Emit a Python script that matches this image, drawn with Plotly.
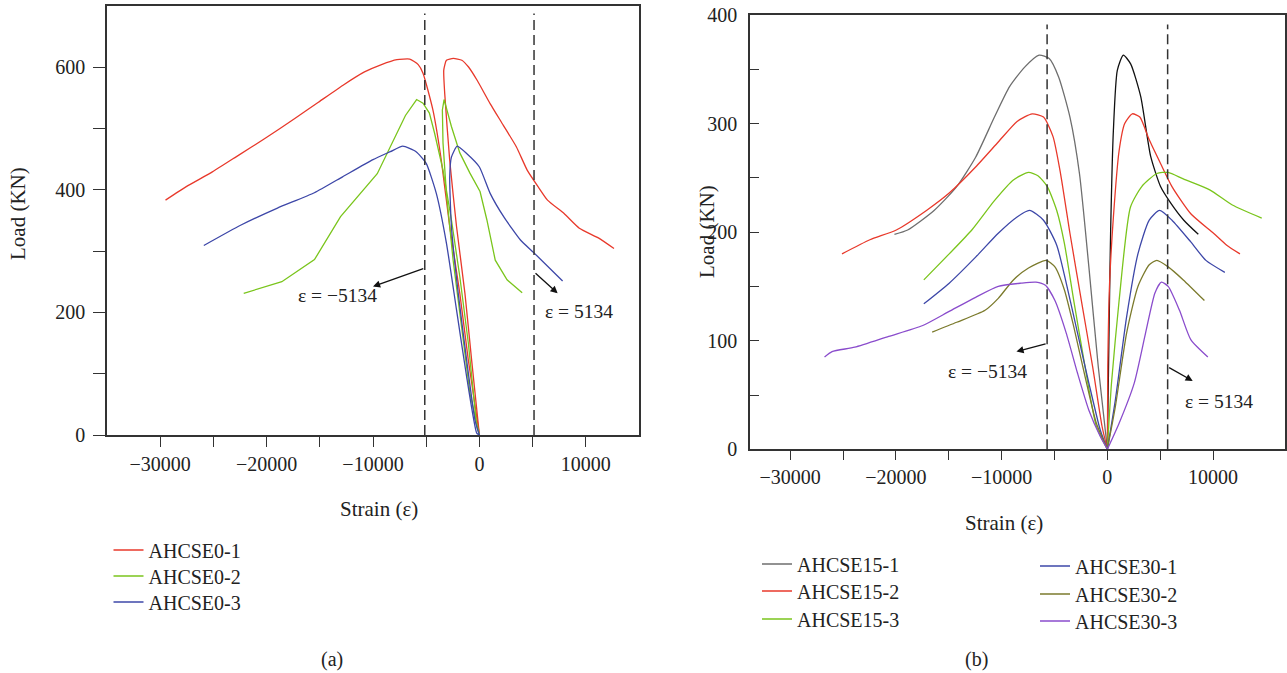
import plotly.graph_objects as go

# ---------------- Panel (a) data: AHCSE0 series ----------------
a1_left_x = [-29500, -27550, -25100, -22650, -20200, -17350, -15100, -12850, -10800, -9200, -7750, -6550, -5750, -5300, -4370, -3580, -2790, -1840, -1040, 0]
a1_left_y = [383, 405, 429, 456, 483, 516, 543, 570, 592, 604, 612, 613, 604, 590, 530, 448, 340, 231, 122, 0]
a1_right_x = [0, -730, -1360, -2150, -2790, -3260, -3350, -3100, -2450, -1650, -1020, -200, 1020, 2250, 3470, 4490, 5510, 6400, 7960, 9390, 11220, 12650]
a1_right_y = [0, 122, 231, 340, 448, 557, 595, 611, 614, 611, 600, 578, 540, 505, 470, 432, 405, 383, 361, 337, 321, 304]

a2_left_x = [-22150, -18570, -15500, -13050, -9600, -8350, -6950, -5900, -5300, -4700, -4210, -3420, -2630, -1840, -1040, -250, 0]
a2_left_y = [231, 250, 286, 356, 426, 470, 521, 547, 541, 525, 492, 432, 351, 258, 150, 14, 0]
a2_right_x = [0, -890, -1680, -2470, -3100, -3420, -3480, -3320, -2630, -1840, -890, 60, 700, 1490, 2600, 4020]
a2_right_y = [0, 68, 177, 285, 394, 476, 530, 547, 503, 460, 427, 397, 351, 285, 253, 232]

a3_left_x = [-25900, -22450, -18980, -15510, -12860, -10000, -8370, -7200, -5950, -5000, -4050, -3100, -2150, -1200, -250, 0]
a3_left_y = [309, 342, 370, 395, 421, 449, 462, 471, 462, 443, 394, 313, 204, 95, 3, 0]
a3_right_x = [0, -410, -1200, -1990, -2630, -2790, -2630, -2090, -1200, 0, 1010, 2280, 3860, 5130, 7820]
a3_right_y = [0, 24, 122, 231, 340, 420, 453, 471, 459, 437, 394, 356, 318, 297, 251]

# ---------------- Panel (b) data: AHCSE15 / AHCSE30 series ----------------
b1_left_x = [-20140, -18890, -16390, -14250, -12460, -10680, -9250, -7820, -6460, -5500, -4610, -3540, -2640, -1750, -860, 0]
b1_left_y = [198, 202, 220, 242, 269, 306, 334, 352, 363, 360, 343, 306, 254, 168, 76, 0]
b1_right_x = [0, 160, 310, 570, 940, 1510, 2200, 3150, 4090, 5030, 5980, 7230, 8600]
b1_right_y = [0, 110, 202, 294, 349, 363, 355, 325, 270, 242, 227, 211, 198]

b2_left_x = [-25100, -22460, -19960, -17110, -14960, -12460, -10320, -8540, -7110, -6040, -5140, -4430, -3540, -2460, -1390, -500, 0]
b2_left_y = [180, 193, 202, 220, 236, 260, 283, 302, 309, 306, 288, 254, 199, 137, 76, 21, 0]
b2_right_x = [0, 40, 210, 570, 1110, 1640, 2360, 3070, 3960, 5040, 6110, 7890, 10040, 11290, 12540]
b2_right_y = [0, 76, 153, 214, 275, 300, 309, 306, 285, 263, 242, 217, 199, 188, 180]

b3_left_x = [-17360, -14960, -12820, -10680, -8890, -7460, -6570, -5680, -4790, -4070, -3180, -2110, -1040, 0]
b3_left_y = [156, 180, 202, 229, 248, 255, 252, 242, 220, 190, 137, 76, 21, 0]
b3_right_x = [0, 390, 1110, 2180, 3250, 4680, 5750, 7180, 9680, 11820, 14600]
b3_right_y = [0, 61, 137, 223, 242, 254, 255, 249, 239, 225, 213]

b4_left_x = [-17360, -14960, -12460, -10320, -8540, -7360, -6040, -4790, -3890, -2820, -1750, -680, 0]
b4_left_y = [134, 153, 177, 199, 214, 220, 211, 188, 153, 107, 61, 18, 0]
b4_right_x = [0, 750, 1820, 2890, 3960, 4930, 6110, 7890, 9320, 11110]
b4_right_y = [0, 45, 122, 180, 211, 220, 211, 191, 174, 163]

b5_left_x = [-16570, -14250, -11570, -10320, -8890, -7460, -5790, -4960, -4070, -3180, -2110, -1040, 0]
b5_left_y = [108, 117, 128, 139, 156, 167, 174, 168, 147, 113, 67, 24, 0]
b5_right_x = [0, 750, 1820, 2890, 3960, 4680, 5750, 7180, 9180]
b5_right_y = [0, 39, 107, 150, 170, 174, 168, 156, 137]

b6_left_x = [-26750, -26040, -23890, -20680, -17460, -14960, -12460, -10320, -8180, -6750, -5860, -4960, -3890, -2820, -1750, -680, 0]
b6_left_y = [85, 90, 94, 104, 114, 127, 140, 150, 153, 154, 151, 137, 107, 70, 36, 12, 0]
b6_right_x = [0, 1110, 2540, 3610, 4500, 5110, 5750, 6820, 7890, 9500]
b6_right_y = [0, 24, 61, 107, 144, 154, 150, 128, 101, 85]

names_a = ["AHCSE0-1", "AHCSE0-2", "AHCSE0-3"]
names_b1 = ["AHCSE15-1", "AHCSE15-2", "AHCSE15-3"]
names_b2 = ["AHCSE30-1", "AHCSE30-2", "AHCSE30-3"]

mark_strain_a = 5134
mark_strain_b = 5700

x_ticks = [-30000, -25000, -20000, -15000, -10000, -5000, 0, 5000, 10000]
x_labels = ["\u221230000", "", "\u221220000", "", "\u221210000", "", "0", "", "10000"]
ya_ticks = [0, 100, 200, 300, 400, 500, 600]
ya_labels = ["0", "", "200", "", "400", "", "600"]
yb_ticks = [0, 50, 100, 150, 200, 250, 300, 350, 400]
yb_labels = ["0", "", "100", "", "200", "", "300", "", "400"]

RED = "#e8392b"
GREEN = "#7ac51c"
BLUE = "#3d47a8"
GRAY = "#6e6e6e"
BLACK = "#111111"
OLIVE = "#7b7a2c"
PURPLE = "#8a4ccc"
FONT = "Liberation Serif, Times New Roman, DejaVu Serif, serif"
W, H = 1287, 673

fig = go.Figure()

def add_series(lx, ly, rx, ry, name, color, xa, ya, legend, rcolor=None, shape="linear", smooth=0.6):
    fig.add_trace(go.Scatter(x=lx, y=ly, mode="lines", name=name, legendgroup=name,
                             line=dict(color=color, width=1.3, shape=shape, smoothing=smooth),
                             xaxis=xa, yaxis=ya, legend=legend, showlegend=True))
    fig.add_trace(go.Scatter(x=rx, y=ry, mode="lines", name=name, legendgroup=name,
                             line=dict(color=rcolor or color, width=1.3, shape=shape, smoothing=smooth),
                             xaxis=xa, yaxis=ya, legend=legend, showlegend=False))

add_series(a1_left_x, a1_left_y, a1_right_x, a1_right_y, names_a[0], RED, "x", "y", "legend", shape="spline", smooth=0.5)
add_series(a2_left_x, a2_left_y, a2_right_x, a2_right_y, names_a[1], GREEN, "x", "y", "legend2")
add_series(a3_left_x, a3_left_y, a3_right_x, a3_right_y, names_a[2], BLUE, "x", "y", "legend3", shape="spline", smooth=0.5)

add_series(b1_left_x, b1_left_y, b1_right_x, b1_right_y, names_b1[0], GRAY, "x2", "y2", "legend4", rcolor=BLACK, shape="spline")
add_series(b2_left_x, b2_left_y, b2_right_x, b2_right_y, names_b1[1], RED, "x2", "y2", "legend5", shape="spline")
add_series(b3_left_x, b3_left_y, b3_right_x, b3_right_y, names_b1[2], GREEN, "x2", "y2", "legend6", shape="spline")
add_series(b4_left_x, b4_left_y, b4_right_x, b4_right_y, names_b2[0], BLUE, "x2", "y2", "legend7", shape="spline")
add_series(b5_left_x, b5_left_y, b5_right_x, b5_right_y, names_b2[1], OLIVE, "x2", "y2", "legend8", shape="spline")
add_series(b6_left_x, b6_left_y, b6_right_x, b6_right_y, names_b2[2], PURPLE, "x2", "y2", "legend9", shape="spline")

tickfont = dict(family=FONT, size=20, color="#222222")
base = dict(showline=True, mirror=True, linecolor="#333333", linewidth=1.5,
            tickwidth=1.3, tickcolor="#333333", showgrid=False, zeroline=False, tickfont=tickfont)

legend_font = dict(family=FONT, size=20, color="#222222")
def row_legend(px, py):
    return dict(x=px / W, y=1 - py / H, xanchor="left", yanchor="middle",
                font=legend_font, bgcolor="rgba(0,0,0,0)", borderwidth=0)

fig.update_layout(
    width=W, height=H, margin=dict(l=0, r=0, t=0, b=0, autoexpand=False),
    paper_bgcolor="white", plot_bgcolor="white",
    xaxis=dict(domain=[107 / W, 639 / W], range=[-35000, 15000], anchor="y",
               tickvals=x_ticks, ticktext=x_labels, ticks="outside", ticklen=10, **base),
    yaxis=dict(domain=[1 - 435 / H, 1 - 5.7 / H], range=[0, 700], anchor="x",
               tickvals=ya_ticks, ticktext=ya_labels, ticks="outside", ticklen=12,
               ticklabelstandoff=4, **base),
    xaxis2=dict(domain=[750 / W, 1285 / W], range=[-33800, 16800], anchor="y2",
                tickvals=x_ticks, ticktext=x_labels, ticks="outside", ticklen=9, **base),
    yaxis2=dict(domain=[1 - 449.3 / H, 1 - 15 / H], range=[0, 400], anchor="x2",
                tickvals=yb_ticks, ticktext=yb_labels, ticks="inside", ticklen=9,
                ticklabelstandoff=7, **base),
    legend=row_legend(108.5, 550),
    legend2=row_legend(108.5, 576),
    legend3=row_legend(108.5, 602),
    legend4=row_legend(757, 564),
    legend5=row_legend(757, 591),
    legend6=row_legend(757, 619),
    legend7=row_legend(1035, 566),
    legend8=row_legend(1035, 594),
    legend9=row_legend(1035, 621),
)

# dashed reference lines
for xv in (-mark_strain_a, mark_strain_a):
    fig.add_shape(type="line", xref="x", yref="y domain", x0=xv, x1=xv, y0=0, y1=0.982,
                  line=dict(color="#333333", width=1.5, dash="10px,5px"))
for xv in (-mark_strain_b, mark_strain_b):
    fig.add_shape(type="line", xref="x2", yref="y2 domain", x0=xv, x1=xv, y0=0, y1=0.978,
                  line=dict(color="#333333", width=1.5, dash="10px,5px"))

ann = []
tfont = dict(family=FONT, size=19.5, color="#222222")
# arrows panel (a)
ann.append(dict(x=-10000, y=242, ax=-mark_strain_a, ay=272, xref="x", yref="y", axref="x", ayref="y",
                text="", showarrow=True, arrowhead=2, arrowsize=1.1, arrowwidth=1.3, arrowcolor="#111"))
ann.append(dict(x=7350, y=231, ax=mark_strain_a, ay=266, xref="x", yref="y", axref="x", ayref="y",
                text="", showarrow=True, arrowhead=2, arrowsize=1.1, arrowwidth=1.3, arrowcolor="#111"))
ann.append(dict(x=-13300, y=227, xref="x", yref="y", text="\u03b5 = \u22125134", showarrow=False, font=tfont))
ann.append(dict(x=9400, y=201, xref="x", yref="y", text="\u03b5 = 5134", showarrow=False, font=tfont))
# arrows panel (b)
ann.append(dict(x=-8600, y=90, ax=-mark_strain_b, ay=97.5, xref="x2", yref="y2", axref="x2", ayref="y2",
                text="", showarrow=True, arrowhead=2, arrowsize=1.1, arrowwidth=1.3, arrowcolor="#111"))
ann.append(dict(x=8070, y=63, ax=mark_strain_b, ay=76, xref="x2", yref="y2", axref="x2", ayref="y2",
                text="", showarrow=True, arrowhead=2, arrowsize=1.1, arrowwidth=1.3, arrowcolor="#111"))
ann.append(dict(x=-11300, y=72, xref="x2", yref="y2", text="\u03b5 = \u22125134", showarrow=False, font=tfont))
ann.append(dict(x=10570, y=44, xref="x2", yref="y2", text="\u03b5 = 5134", showarrow=False, font=tfont))

def paper_text(px, py, text, angle=0, size=21):
    return dict(x=px / W, y=1 - py / H, xref="paper", yref="paper", xanchor="center", yanchor="middle",
                text=text, textangle=angle, showarrow=False,
                font=dict(family=FONT, size=size, color="#222222"))

ann.append(paper_text(379, 509, "Strain (\u03b5)"))
ann.append(paper_text(1004, 523, "Strain (\u03b5)"))
ann.append(paper_text(18, 214, "Load (KN)", -90))
ann.append(paper_text(707, 232, "Load (KN)", -90))
ann.append(paper_text(332, 659, "(a)", size=20))
ann.append(paper_text(976, 659, "(b)", size=20))

fig.update_layout(annotations=ann)
fig.write_html("out.html")
